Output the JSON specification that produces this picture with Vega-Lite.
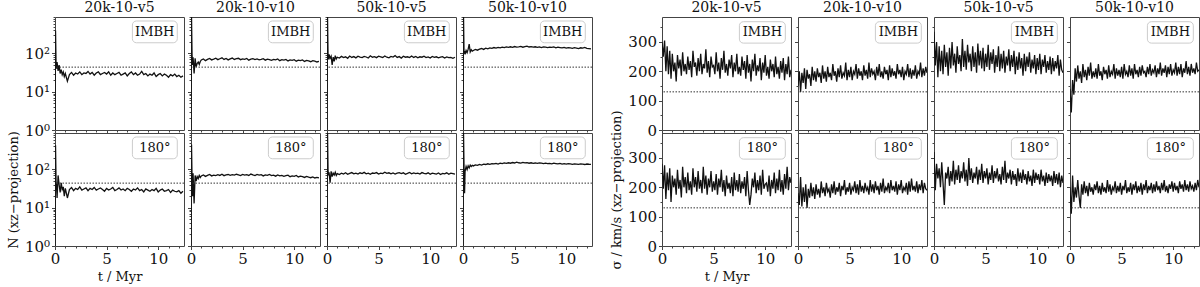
{
"$schema":"https://vega.github.io/schema/vega-lite/v6.json",
"background":"white",
"padding":{"left":6,"top":0,"right":0,"bottom":0},
"config":{
"font":"DejaVu Serif",
"view":{"stroke":"#444","strokeWidth":1},
"title":{"font":"DejaVu Serif","fontSize":14,"fontWeight":"normal","color":"#111","offset":2},
"axis":{"grid":false,"domain":false,"tickColor":"#444","labelFont":"DejaVu Serif","labelFontSize":15,"labelColor":"#111","titleFont":"DejaVu Serif","titleFontSize":13,"titleFontWeight":"normal","titleColor":"#111","labelPadding":2,"labelFlush":false,"labelOverlap":false},
"line":{"color":"#111","strokeWidth":1.3},
"rule":{"color":"#333","strokeDash":[1.5,1.5],"strokeWidth":1},
"rect":{"fill":"white","fillOpacity":0.85,"stroke":"#ccc","strokeWidth":1,"cornerRadius":4},
"text":{"font":"DejaVu Serif","fontSize":13,"color":"#111","baseline":"middle","align":"center"}
},
"datasets":{
"N":[
{"m":"20k-10-v5","r":"IMBH","t":[0,0.05,0.1,0.15,0.2,0.3,0.4,0.5,0.6,0.7,0.8,0.9,1,1.2,1.4,1.6,1.8,2,2.2,2.4,2.6,2.8,3,3.2,3.4,3.6,3.8,4,4.2,4.4,4.6,4.8,5,5.2,5.4,5.6,5.8,6,6.2,6.4,6.6,6.8,7,7.2,7.4,7.6,7.8,8,8.2,8.4,8.6,8.8,9,9.2,9.4,9.6,9.8,10,10.2,10.4,10.6,10.8,11,11.2,11.4,11.6,11.8,12,12.2,12.4],"v":[1,400,55,40,60,35,50,30,38,28,33,25,30,19,28,32,27,31,29,33,28,31,30,34,29,32,27,31,33,28,30,32,29,33,27,31,28,30,32,27,29,31,26,30,33,28,31,27,29,34,28,30,26,29,27,31,25,28,30,26,29,27,24,28,26,29,25,27,24,26]},
{"m":"20k-10-v10","r":"IMBH","t":[0,0.05,0.1,0.15,0.2,0.3,0.4,0.5,0.6,0.7,0.8,0.9,1,1.2,1.4,1.6,1.8,2,2.2,2.4,2.6,2.8,3,3.2,3.4,3.6,3.8,4,4.2,4.4,4.6,4.8,5,5.2,5.4,5.6,5.8,6,6.2,6.4,6.6,6.8,7,7.2,7.4,7.6,7.8,8,8.2,8.4,8.6,8.8,9,9.2,9.4,9.6,9.8,10,10.2,10.4,10.6,10.8,11,11.2,11.4,11.6,11.8,12,12.2,12.4],"v":[1,900,95,50,80,30,75,45,55,60,52,62,68,72,65,70,74,68,71,75,69,73,77,70,74,68,72,76,70,73,75,69,72,70,74,67,71,73,69,72,68,70,73,67,71,69,66,70,68,72,65,69,67,70,64,68,66,69,63,67,65,68,62,66,64,61,65,63,60,62]},
{"m":"50k-10-v5","r":"IMBH","t":[0,0.05,0.1,0.15,0.2,0.3,0.4,0.5,0.6,0.7,0.8,0.9,1,1.2,1.4,1.6,1.8,2,2.2,2.4,2.6,2.8,3,3.2,3.4,3.6,3.8,4,4.2,4.4,4.6,4.8,5,5.2,5.4,5.6,5.8,6,6.2,6.4,6.6,6.8,7,7.2,7.4,7.6,7.8,8,8.2,8.4,8.6,8.8,9,9.2,9.4,9.6,9.8,10,10.2,10.4,10.6,10.8,11,11.2,11.4,11.6,11.8,12,12.2,12.4],"v":[1,900,90,70,95,75,85,50,80,62,88,72,80,76,84,78,82,75,86,79,83,77,85,80,78,84,81,76,87,80,83,78,85,82,79,86,80,77,84,81,88,79,83,76,85,80,82,78,86,79,84,77,82,80,85,78,81,76,84,79,82,77,80,83,76,81,78,79,75,80]},
{"m":"50k-10-v10","r":"IMBH","t":[0,0.05,0.1,0.15,0.2,0.3,0.4,0.5,0.6,0.7,0.8,0.9,1,1.2,1.4,1.6,1.8,2,2.2,2.4,2.6,2.8,3,3.2,3.4,3.6,3.8,4,4.2,4.4,4.6,4.8,5,5.2,5.4,5.6,5.8,6,6.2,6.4,6.6,6.8,7,7.2,7.4,7.6,7.8,8,8.2,8.4,8.6,8.8,9,9.2,9.4,9.6,9.8,10,10.2,10.4,10.6,10.8,11,11.2,11.4,11.6,11.8,12,12.2,12.4],"v":[1,900,100,115,95,120,105,130,175,110,125,115,120,128,122,130,135,128,138,132,140,136,143,138,145,140,147,142,148,144,150,145,152,147,149,153,146,151,155,148,152,147,150,145,149,143,148,146,142,147,144,149,141,146,143,140,145,138,143,140,137,142,139,135,141,138,144,136,134,132]},
{"m":"20k-10-v5","r":"180°","t":[0,0.05,0.1,0.15,0.2,0.3,0.4,0.5,0.6,0.7,0.8,0.9,1,1.2,1.4,1.6,1.8,2,2.2,2.4,2.6,2.8,3,3.2,3.4,3.6,3.8,4,4.2,4.4,4.6,4.8,5,5.2,5.4,5.6,5.8,6,6.2,6.4,6.6,6.8,7,7.2,7.4,7.6,7.8,8,8.2,8.4,8.6,8.8,9,9.2,9.4,9.6,9.8,10,10.2,10.4,10.6,10.8,11,11.2,11.4,11.6,11.8,12,12.2,12.4],"v":[1,430,50,35,18,70,40,25,45,30,35,20,32,18,30,34,28,32,30,35,29,31,33,28,32,30,34,29,31,33,30,27,32,29,31,34,28,30,33,29,31,28,32,30,27,31,29,33,28,30,26,31,29,27,30,28,32,26,29,31,27,28,30,25,29,27,26,28,24,27]},
{"m":"20k-10-v10","r":"180°","t":[0,0.05,0.1,0.15,0.2,0.3,0.4,0.5,0.6,0.7,0.8,0.9,1,1.2,1.4,1.6,1.8,2,2.2,2.4,2.6,2.8,3,3.2,3.4,3.6,3.8,4,4.2,4.4,4.6,4.8,5,5.2,5.4,5.6,5.8,6,6.2,6.4,6.6,6.8,7,7.2,7.4,7.6,7.8,8,8.2,8.4,8.6,8.8,9,9.2,9.4,9.6,9.8,10,10.2,10.4,10.6,10.8,11,11.2,11.4,11.6,11.8,12,12.2,12.4],"v":[1,450,60,20,80,13,70,50,65,58,70,62,68,72,66,70,74,68,71,69,73,70,75,69,72,74,70,73,71,75,72,69,74,71,73,70,76,72,69,74,71,73,68,72,70,74,69,71,67,72,68,70,66,69,71,65,68,66,70,64,67,65,62,66,63,61,64,60,62,60]},
{"m":"50k-10-v5","r":"180°","t":[0,0.05,0.1,0.15,0.2,0.3,0.4,0.5,0.6,0.7,0.8,0.9,1,1.2,1.4,1.6,1.8,2,2.2,2.4,2.6,2.8,3,3.2,3.4,3.6,3.8,4,4.2,4.4,4.6,4.8,5,5.2,5.4,5.6,5.8,6,6.2,6.4,6.6,6.8,7,7.2,7.4,7.6,7.8,8,8.2,8.4,8.6,8.8,9,9.2,9.4,9.6,9.8,10,10.2,10.4,10.6,10.8,11,11.2,11.4,11.6,11.8,12,12.2,12.4],"v":[1,900,95,70,85,45,90,65,80,72,85,70,78,74,80,76,82,75,79,83,77,80,76,82,78,84,77,80,75,81,79,83,76,80,78,85,79,82,77,81,76,80,83,78,82,75,79,84,77,81,78,80,76,83,79,77,82,75,80,78,76,81,74,79,77,82,75,80,78,76]},
{"m":"50k-10-v10","r":"180°","t":[0,0.05,0.1,0.15,0.2,0.3,0.4,0.5,0.6,0.7,0.8,0.9,1,1.2,1.4,1.6,1.8,2,2.2,2.4,2.6,2.8,3,3.2,3.4,3.6,3.8,4,4.2,4.4,4.6,4.8,5,5.2,5.4,5.6,5.8,6,6.2,6.4,6.6,6.8,7,7.2,7.4,7.6,7.8,8,8.2,8.4,8.6,8.8,9,9.2,9.4,9.6,9.8,10,10.2,10.4,10.6,10.8,11,11.2,11.4,11.6,11.8,12,12.2,12.4],"v":[1,900,110,24,90,120,100,125,110,130,120,128,124,132,128,136,131,138,135,141,137,143,140,145,139,146,142,148,144,150,146,152,148,155,150,147,153,149,151,146,150,145,148,144,149,146,143,147,142,145,141,146,143,140,144,139,142,138,143,140,137,141,139,136,140,138,135,139,137,136]}
],
"S":[
{"m":"20k-10-v5","r":"IMBH","t":[0,0.125,0.25,0.375,0.5,0.625,0.75,0.875,1,1.125,1.25,1.375,1.5,1.625,1.75,1.875,2,2.125,2.25,2.375,2.5,2.625,2.75,2.875,3,3.125,3.25,3.375,3.5,3.625,3.75,3.875,4,4.125,4.25,4.375,4.5,4.625,4.75,4.875,5,5.125,5.25,5.375,5.5,5.625,5.75,5.875,6,6.125,6.25,6.375,6.5,6.625,6.75,6.875,7,7.125,7.25,7.375,7.5,7.625,7.75,7.875,8,8.125,8.25,8.375,8.5,8.625,8.75,8.875,9,9.125,9.25,9.375,9.5,9.625,9.75,9.875,10,10.125,10.25,10.375,10.5,10.625,10.75,10.875,11,11.125,11.25,11.375,11.5,11.625,11.75,11.875,12,12.125,12.25,12.375,12.5],"v":[300,250,305,200,285,190,270,175,260,200,230,165,255,210,240,185,265,200,225,190,250,205,235,180,270,215,230,185,245,200,260,190,225,210,275,195,235,180,250,215,220,190,265,200,230,175,245,205,270,195,225,185,240,210,255,180,230,200,260,190,215,185,250,205,235,175,255,195,225,165,240,200,260,185,220,200,245,170,230,195,255,185,215,175,240,200,225,180,250,190,215,175,235,195,245,170,225,190,250,180,205]},
{"m":"20k-10-v10","r":"IMBH","t":[0,0.125,0.25,0.375,0.5,0.625,0.75,0.875,1,1.125,1.25,1.375,1.5,1.625,1.75,1.875,2,2.125,2.25,2.375,2.5,2.625,2.75,2.875,3,3.125,3.25,3.375,3.5,3.625,3.75,3.875,4,4.125,4.25,4.375,4.5,4.625,4.75,4.875,5,5.125,5.25,5.375,5.5,5.625,5.75,5.875,6,6.125,6.25,6.375,6.5,6.625,6.75,6.875,7,7.125,7.25,7.375,7.5,7.625,7.75,7.875,8,8.125,8.25,8.375,8.5,8.625,8.75,8.875,9,9.125,9.25,9.375,9.5,9.625,9.75,9.875,10,10.125,10.25,10.375,10.5,10.625,10.75,10.875,11,11.125,11.25,11.375,11.5,11.625,11.75,11.875,12,12.125,12.25,12.375,12.5],"v":[150,200,130,195,160,210,140,205,175,190,150,215,170,200,165,210,180,195,160,220,175,200,165,215,180,195,170,225,185,200,165,210,180,220,175,195,185,230,170,205,180,215,170,200,190,225,175,210,185,200,170,220,185,205,175,230,180,210,190,200,170,215,185,225,180,200,175,215,190,205,170,220,180,210,185,200,175,225,190,205,180,215,170,200,190,225,180,210,175,205,185,220,175,200,190,230,180,210,185,215,195]},
{"m":"50k-10-v5","r":"IMBH","t":[0,0.125,0.25,0.375,0.5,0.625,0.75,0.875,1,1.125,1.25,1.375,1.5,1.625,1.75,1.875,2,2.125,2.25,2.375,2.5,2.625,2.75,2.875,3,3.125,3.25,3.375,3.5,3.625,3.75,3.875,4,4.125,4.25,4.375,4.5,4.625,4.75,4.875,5,5.125,5.25,5.375,5.5,5.625,5.75,5.875,6,6.125,6.25,6.375,6.5,6.625,6.75,6.875,7,7.125,7.25,7.375,7.5,7.625,7.75,7.875,8,8.125,8.25,8.375,8.5,8.625,8.75,8.875,9,9.125,9.25,9.375,9.5,9.625,9.75,9.875,10,10.125,10.25,10.375,10.5,10.625,10.75,10.875,11,11.125,11.25,11.375,11.5,11.625,11.75,11.875,12,12.125,12.25,12.375,12.5],"v":[335,220,300,180,285,200,270,190,290,215,265,185,280,210,300,220,260,195,285,225,255,200,310,215,270,205,290,230,260,200,285,215,265,195,295,220,270,210,280,200,260,215,290,205,265,225,275,195,255,215,285,200,260,210,270,195,250,220,275,200,255,215,270,190,250,205,265,210,245,185,260,200,250,215,265,195,240,210,255,190,245,205,260,190,240,215,255,195,235,205,250,190,245,200,235,210,255,185,240,205,195]},
{"m":"50k-10-v10","r":"IMBH","t":[0,0.125,0.25,0.375,0.5,0.625,0.75,0.875,1,1.125,1.25,1.375,1.5,1.625,1.75,1.875,2,2.125,2.25,2.375,2.5,2.625,2.75,2.875,3,3.125,3.25,3.375,3.5,3.625,3.75,3.875,4,4.125,4.25,4.375,4.5,4.625,4.75,4.875,5,5.125,5.25,5.375,5.5,5.625,5.75,5.875,6,6.125,6.25,6.375,6.5,6.625,6.75,6.875,7,7.125,7.25,7.375,7.5,7.625,7.75,7.875,8,8.125,8.25,8.375,8.5,8.625,8.75,8.875,9,9.125,9.25,9.375,9.5,9.625,9.75,9.875,10,10.125,10.25,10.375,10.5,10.625,10.75,10.875,11,11.125,11.25,11.375,11.5,11.625,11.75,11.875,12,12.125,12.25,12.375,12.5],"v":[140,60,170,120,210,165,220,175,200,160,225,180,205,170,215,185,230,175,200,180,210,175,225,185,200,170,215,190,205,175,220,180,200,190,225,175,210,185,205,180,215,175,225,190,200,180,220,185,210,175,225,190,205,180,215,185,220,195,200,180,215,190,225,185,205,195,220,180,210,190,230,185,210,195,220,180,215,190,225,185,205,195,230,185,215,190,225,180,210,195,235,190,215,185,225,195,210,190,230,200,205]},
{"m":"20k-10-v5","r":"180°","t":[0,0.125,0.25,0.375,0.5,0.625,0.75,0.875,1,1.125,1.25,1.375,1.5,1.625,1.75,1.875,2,2.125,2.25,2.375,2.5,2.625,2.75,2.875,3,3.125,3.25,3.375,3.5,3.625,3.75,3.875,4,4.125,4.25,4.375,4.5,4.625,4.75,4.875,5,5.125,5.25,5.375,5.5,5.625,5.75,5.875,6,6.125,6.25,6.375,6.5,6.625,6.75,6.875,7,7.125,7.25,7.375,7.5,7.625,7.75,7.875,8,8.125,8.25,8.375,8.5,8.625,8.75,8.875,9,9.125,9.25,9.375,9.5,9.625,9.75,9.875,10,10.125,10.25,10.375,10.5,10.625,10.75,10.875,11,11.125,11.25,11.375,11.5,11.625,11.75,11.875,12,12.125,12.25,12.375,12.5],"v":[280,195,275,160,250,190,265,150,240,200,230,175,260,195,225,165,270,200,235,180,250,190,220,175,265,200,235,185,255,195,225,180,270,195,240,175,230,200,255,185,220,190,245,175,230,200,260,185,225,170,240,195,215,180,235,170,250,190,225,185,245,180,220,195,235,170,255,190,140,175,230,200,250,180,225,190,240,175,260,195,210,215,185,240,170,225,195,250,180,230,190,260,185,225,175,245,195,270,190,235,215]},
{"m":"20k-10-v10","r":"180°","t":[0,0.125,0.25,0.375,0.5,0.625,0.75,0.875,1,1.125,1.25,1.375,1.5,1.625,1.75,1.875,2,2.125,2.25,2.375,2.5,2.625,2.75,2.875,3,3.125,3.25,3.375,3.5,3.625,3.75,3.875,4,4.125,4.25,4.375,4.5,4.625,4.75,4.875,5,5.125,5.25,5.375,5.5,5.625,5.75,5.875,6,6.125,6.25,6.375,6.5,6.625,6.75,6.875,7,7.125,7.25,7.375,7.5,7.625,7.75,7.875,8,8.125,8.25,8.375,8.5,8.625,8.75,8.875,9,9.125,9.25,9.375,9.5,9.625,9.75,9.875,10,10.125,10.25,10.375,10.5,10.625,10.75,10.875,11,11.125,11.25,11.375,11.5,11.625,11.75,11.875,12,12.125,12.25,12.375,12.5],"v":[180,140,235,135,200,150,210,130,195,165,215,170,200,160,210,175,195,165,220,180,200,170,215,185,195,165,210,180,220,175,200,185,215,170,205,190,225,175,200,185,215,175,200,190,220,180,210,175,225,185,205,180,215,190,200,175,225,185,210,180,220,190,205,175,215,185,230,180,200,190,215,180,225,190,205,185,220,175,210,190,225,180,200,190,215,175,220,185,230,190,205,185,220,180,210,190,225,180,215,195,190]},
{"m":"50k-10-v5","r":"180°","t":[0,0.125,0.25,0.375,0.5,0.625,0.75,0.875,1,1.125,1.25,1.375,1.5,1.625,1.75,1.875,2,2.125,2.25,2.375,2.5,2.625,2.75,2.875,3,3.125,3.25,3.375,3.5,3.625,3.75,3.875,4,4.125,4.25,4.375,4.5,4.625,4.75,4.875,5,5.125,5.25,5.375,5.5,5.625,5.75,5.875,6,6.125,6.25,6.375,6.5,6.625,6.75,6.875,7,7.125,7.25,7.375,7.5,7.625,7.75,7.875,8,8.125,8.25,8.375,8.5,8.625,8.75,8.875,9,9.125,9.25,9.375,9.5,9.625,9.75,9.875,10,10.125,10.25,10.375,10.5,10.625,10.75,10.875,11,11.125,11.25,11.375,11.5,11.625,11.75,11.875,12,12.125,12.25,12.375,12.5],"v":[320,190,280,230,265,200,285,215,140,250,230,270,205,255,220,290,210,260,225,275,215,255,230,285,220,260,205,300,225,265,215,250,230,270,210,260,225,280,215,255,230,265,210,250,225,275,215,255,230,265,220,245,210,270,225,290,215,250,230,260,210,255,225,245,205,265,220,250,215,260,225,245,210,255,220,240,205,260,215,250,225,245,210,260,220,240,205,250,215,245,220,240,205,255,215,245,210,250,200,240,215]},
{"m":"50k-10-v10","r":"180°","t":[0,0.125,0.25,0.375,0.5,0.625,0.75,0.875,1,1.125,1.25,1.375,1.5,1.625,1.75,1.875,2,2.125,2.25,2.375,2.5,2.625,2.75,2.875,3,3.125,3.25,3.375,3.5,3.625,3.75,3.875,4,4.125,4.25,4.375,4.5,4.625,4.75,4.875,5,5.125,5.25,5.375,5.5,5.625,5.75,5.875,6,6.125,6.25,6.375,6.5,6.625,6.75,6.875,7,7.125,7.25,7.375,7.5,7.625,7.75,7.875,8,8.125,8.25,8.375,8.5,8.625,8.75,8.875,9,9.125,9.25,9.375,9.5,9.625,9.75,9.875,10,10.125,10.25,10.375,10.5,10.625,10.75,10.875,11,11.125,11.25,11.375,11.5,11.625,11.75,11.875,12,12.125,12.25,12.375,12.5],"v":[200,110,240,150,200,165,225,170,130,210,175,220,180,205,170,215,185,200,175,210,190,220,180,205,175,215,185,200,180,225,185,210,175,200,190,220,180,205,185,215,175,205,190,225,180,200,185,215,175,210,190,220,180,205,185,215,175,210,190,225,180,205,190,215,180,210,185,220,190,205,180,215,190,225,185,205,180,210,195,220,185,215,190,205,180,220,195,210,185,225,190,210,185,220,195,205,185,215,190,225,200]}
]
},
"columns":9,
"spacing":{"row":3,"column":7},
"bounds":"flush",
"align":"each",
"concat":[
{"title":"20k-10-v5","width":129,"height":113,"data":{"name":"N"},"transform":[{"filter":"datum.m==='20k-10-v5' && datum.r==='IMBH'"}],"layer":[
{"transform":[{"flatten":["t","v"]}],"mark":{"type":"line","clip":true},"encoding":{"x":{"field":"t","type":"quantitative","scale":{"domain":[0,12.5],"nice":false,"zero":false},"axis":{"values":[0,1,2,3,4,5,6,7,8,9,10,11,12],"tickCount":100,"labels":false,"title":null,"tickSize":{"condition":{"test":"datum.value === 0 || datum.value === 5 || datum.value === 10","value":3.5},"value":2}}},"y":{"field":"v","type":"quantitative","scale":{"type":"log","domain":[1,900],"nice":false},"axis":{"values":[1,2,3,4,5,6,7,8,9,10,20,30,40,50,60,70,80,90,100,200,300,400,500,600,700,800,900],"tickCount":100,"labelExpr":"datum.value === 1 ? '10⁰' : datum.value === 10 ? '10¹' : datum.value === 100 ? '10²' : ''","labelFontSize":{"condition":{"test":"datum.value === 1 || datum.value === 10 || datum.value === 100","value":15},"value":0},"title":null,"tickSize":{"condition":{"test":"datum.value === 1 || datum.value === 10 || datum.value === 100","value":3.5},"value":2}}}}},
{"mark":"rule","encoding":{"y":{"datum":44}}},
{"mark":"rect","encoding":{"x":{"datum":7.5},"x2":{"datum":11.85},"y":{"datum":191},"y2":{"datum":708}}},
{"mark":"text","encoding":{"x":{"datum":9.67},"y":{"datum":368},"text":{"field":"r"}}}]},
{"title":"20k-10-v10","width":129,"height":113,"data":{"name":"N"},"transform":[{"filter":"datum.m==='20k-10-v10' && datum.r==='IMBH'"}],"layer":[
{"transform":[{"flatten":["t","v"]}],"mark":{"type":"line","clip":true},"encoding":{"x":{"field":"t","type":"quantitative","scale":{"domain":[0,12.5],"nice":false,"zero":false},"axis":{"values":[0,1,2,3,4,5,6,7,8,9,10,11,12],"tickCount":100,"labels":false,"title":null,"tickSize":{"condition":{"test":"datum.value === 0 || datum.value === 5 || datum.value === 10","value":3.5},"value":2}}},"y":{"field":"v","type":"quantitative","scale":{"type":"log","domain":[1,900],"nice":false},"axis":{"values":[1,2,3,4,5,6,7,8,9,10,20,30,40,50,60,70,80,90,100,200,300,400,500,600,700,800,900],"tickCount":100,"labels":false,"title":null,"tickSize":{"condition":{"test":"datum.value === 1 || datum.value === 10 || datum.value === 100","value":3.5},"value":2}}}}},
{"mark":"rule","encoding":{"y":{"datum":44}}},
{"mark":"rect","encoding":{"x":{"datum":7.5},"x2":{"datum":11.85},"y":{"datum":191},"y2":{"datum":708}}},
{"mark":"text","encoding":{"x":{"datum":9.67},"y":{"datum":368},"text":{"field":"r"}}}]},
{"title":"50k-10-v5","width":129,"height":113,"data":{"name":"N"},"transform":[{"filter":"datum.m==='50k-10-v5' && datum.r==='IMBH'"}],"layer":[
{"transform":[{"flatten":["t","v"]}],"mark":{"type":"line","clip":true},"encoding":{"x":{"field":"t","type":"quantitative","scale":{"domain":[0,12.5],"nice":false,"zero":false},"axis":{"values":[0,1,2,3,4,5,6,7,8,9,10,11,12],"tickCount":100,"labels":false,"title":null,"tickSize":{"condition":{"test":"datum.value === 0 || datum.value === 5 || datum.value === 10","value":3.5},"value":2}}},"y":{"field":"v","type":"quantitative","scale":{"type":"log","domain":[1,900],"nice":false},"axis":{"values":[1,2,3,4,5,6,7,8,9,10,20,30,40,50,60,70,80,90,100,200,300,400,500,600,700,800,900],"tickCount":100,"labels":false,"title":null,"tickSize":{"condition":{"test":"datum.value === 1 || datum.value === 10 || datum.value === 100","value":3.5},"value":2}}}}},
{"mark":"rule","encoding":{"y":{"datum":44}}},
{"mark":"rect","encoding":{"x":{"datum":7.5},"x2":{"datum":11.85},"y":{"datum":191},"y2":{"datum":708}}},
{"mark":"text","encoding":{"x":{"datum":9.67},"y":{"datum":368},"text":{"field":"r"}}}]},
{"title":"50k-10-v10","width":129,"height":113,"data":{"name":"N"},"transform":[{"filter":"datum.m==='50k-10-v10' && datum.r==='IMBH'"}],"layer":[
{"transform":[{"flatten":["t","v"]}],"mark":{"type":"line","clip":true},"encoding":{"x":{"field":"t","type":"quantitative","scale":{"domain":[0,12.5],"nice":false,"zero":false},"axis":{"values":[0,1,2,3,4,5,6,7,8,9,10,11,12],"tickCount":100,"labels":false,"title":null,"tickSize":{"condition":{"test":"datum.value === 0 || datum.value === 5 || datum.value === 10","value":3.5},"value":2}}},"y":{"field":"v","type":"quantitative","scale":{"type":"log","domain":[1,900],"nice":false},"axis":{"values":[1,2,3,4,5,6,7,8,9,10,20,30,40,50,60,70,80,90,100,200,300,400,500,600,700,800,900],"tickCount":100,"labels":false,"title":null,"tickSize":{"condition":{"test":"datum.value === 1 || datum.value === 10 || datum.value === 100","value":3.5},"value":2}}}}},
{"mark":"rule","encoding":{"y":{"datum":44}}},
{"mark":"rect","encoding":{"x":{"datum":7.5},"x2":{"datum":11.85},"y":{"datum":191},"y2":{"datum":708}}},
{"mark":"text","encoding":{"x":{"datum":9.67},"y":{"datum":368},"text":{"field":"r"}}}]},
{"width":56,"height":113,"data":{"values":[{}]},"mark":{"type":"point","opacity":0},"encoding":{},"view":{"stroke":null}},
{"title":"20k-10-v5","width":129,"height":113,"data":{"name":"S"},"transform":[{"filter":"datum.m==='20k-10-v5' && datum.r==='IMBH'"}],"layer":[
{"transform":[{"flatten":["t","v"]}],"mark":{"type":"line","clip":true},"encoding":{"x":{"field":"t","type":"quantitative","scale":{"domain":[0,12.5],"nice":false,"zero":false},"axis":{"values":[0,1,2,3,4,5,6,7,8,9,10,11,12],"tickCount":100,"labels":false,"title":null,"tickSize":{"condition":{"test":"datum.value === 0 || datum.value === 5 || datum.value === 10","value":3.5},"value":2}}},"y":{"field":"v","type":"quantitative","scale":{"domain":[0,385],"nice":false,"zero":false},"axis":{"values":[0,50,100,150,200,250,300,350],"tickCount":100,"labelExpr":"datum.value === 0 ? '0' : datum.value === 100 ? '100' : datum.value === 200 ? '200' : datum.value === 300 ? '300' : ''","labelFontSize":{"condition":{"test":"datum.value === 0 || datum.value === 100 || datum.value === 200 || datum.value === 300","value":15},"value":0},"title":null,"tickSize":{"condition":{"test":"datum.value === 0 || datum.value === 100 || datum.value === 200 || datum.value === 300","value":3.5},"value":2}}}}},
{"mark":"rule","encoding":{"y":{"datum":130}}},
{"mark":"rect","encoding":{"x":{"datum":7.5},"x2":{"datum":11.95},"y":{"datum":296},"y2":{"datum":369}}},
{"mark":"text","encoding":{"x":{"datum":9.72},"y":{"datum":333},"text":{"field":"r"}}}]},
{"title":"20k-10-v10","width":129,"height":113,"data":{"name":"S"},"transform":[{"filter":"datum.m==='20k-10-v10' && datum.r==='IMBH'"}],"layer":[
{"transform":[{"flatten":["t","v"]}],"mark":{"type":"line","clip":true},"encoding":{"x":{"field":"t","type":"quantitative","scale":{"domain":[0,12.5],"nice":false,"zero":false},"axis":{"values":[0,1,2,3,4,5,6,7,8,9,10,11,12],"tickCount":100,"labels":false,"title":null,"tickSize":{"condition":{"test":"datum.value === 0 || datum.value === 5 || datum.value === 10","value":3.5},"value":2}}},"y":{"field":"v","type":"quantitative","scale":{"domain":[0,385],"nice":false,"zero":false},"axis":{"values":[0,50,100,150,200,250,300,350],"tickCount":100,"labels":false,"title":null,"tickSize":{"condition":{"test":"datum.value === 0 || datum.value === 100 || datum.value === 200 || datum.value === 300","value":3.5},"value":2}}}}},
{"mark":"rule","encoding":{"y":{"datum":130}}},
{"mark":"rect","encoding":{"x":{"datum":7.5},"x2":{"datum":11.95},"y":{"datum":296},"y2":{"datum":369}}},
{"mark":"text","encoding":{"x":{"datum":9.72},"y":{"datum":333},"text":{"field":"r"}}}]},
{"title":"50k-10-v5","width":129,"height":113,"data":{"name":"S"},"transform":[{"filter":"datum.m==='50k-10-v5' && datum.r==='IMBH'"}],"layer":[
{"transform":[{"flatten":["t","v"]}],"mark":{"type":"line","clip":true},"encoding":{"x":{"field":"t","type":"quantitative","scale":{"domain":[0,12.5],"nice":false,"zero":false},"axis":{"values":[0,1,2,3,4,5,6,7,8,9,10,11,12],"tickCount":100,"labels":false,"title":null,"tickSize":{"condition":{"test":"datum.value === 0 || datum.value === 5 || datum.value === 10","value":3.5},"value":2}}},"y":{"field":"v","type":"quantitative","scale":{"domain":[0,385],"nice":false,"zero":false},"axis":{"values":[0,50,100,150,200,250,300,350],"tickCount":100,"labels":false,"title":null,"tickSize":{"condition":{"test":"datum.value === 0 || datum.value === 100 || datum.value === 200 || datum.value === 300","value":3.5},"value":2}}}}},
{"mark":"rule","encoding":{"y":{"datum":130}}},
{"mark":"rect","encoding":{"x":{"datum":7.5},"x2":{"datum":11.95},"y":{"datum":296},"y2":{"datum":369}}},
{"mark":"text","encoding":{"x":{"datum":9.72},"y":{"datum":333},"text":{"field":"r"}}}]},
{"title":"50k-10-v10","width":129,"height":113,"data":{"name":"S"},"transform":[{"filter":"datum.m==='50k-10-v10' && datum.r==='IMBH'"}],"layer":[
{"transform":[{"flatten":["t","v"]}],"mark":{"type":"line","clip":true},"encoding":{"x":{"field":"t","type":"quantitative","scale":{"domain":[0,12.5],"nice":false,"zero":false},"axis":{"values":[0,1,2,3,4,5,6,7,8,9,10,11,12],"tickCount":100,"labels":false,"title":null,"tickSize":{"condition":{"test":"datum.value === 0 || datum.value === 5 || datum.value === 10","value":3.5},"value":2}}},"y":{"field":"v","type":"quantitative","scale":{"domain":[0,385],"nice":false,"zero":false},"axis":{"values":[0,50,100,150,200,250,300,350],"tickCount":100,"labels":false,"title":null,"tickSize":{"condition":{"test":"datum.value === 0 || datum.value === 100 || datum.value === 200 || datum.value === 300","value":3.5},"value":2}}}}},
{"mark":"rule","encoding":{"y":{"datum":130}}},
{"mark":"rect","encoding":{"x":{"datum":7.5},"x2":{"datum":11.95},"y":{"datum":296},"y2":{"datum":369}}},
{"mark":"text","encoding":{"x":{"datum":9.72},"y":{"datum":333},"text":{"field":"r"}}}]},
{"width":129,"height":113,"data":{"name":"N"},"transform":[{"filter":"datum.m==='20k-10-v5' && datum.r==='180°'"}],"layer":[
{"transform":[{"flatten":["t","v"]}],"mark":{"type":"line","clip":true},"encoding":{"x":{"field":"t","type":"quantitative","scale":{"domain":[0,12.5],"nice":false,"zero":false},"axis":{"values":[0,1,2,3,4,5,6,7,8,9,10,11,12],"tickCount":100,"labelExpr":"datum.value === 0 ? '0' : datum.value === 5 ? '5' : datum.value === 10 ? '10' : ''","labelFontSize":{"condition":{"test":"datum.value === 0 || datum.value === 5 || datum.value === 10","value":15},"value":0},"title":"t / Myr","tickSize":{"condition":{"test":"datum.value === 0 || datum.value === 5 || datum.value === 10","value":3.5},"value":2}}},"y":{"field":"v","type":"quantitative","scale":{"type":"log","domain":[1,900],"nice":false},"axis":{"values":[1,2,3,4,5,6,7,8,9,10,20,30,40,50,60,70,80,90,100,200,300,400,500,600,700,800,900],"tickCount":100,"labelExpr":"datum.value === 1 ? '10⁰' : datum.value === 10 ? '10¹' : datum.value === 100 ? '10²' : ''","labelFontSize":{"condition":{"test":"datum.value === 1 || datum.value === 10 || datum.value === 100","value":15},"value":0},"title":"N (xz−projection)","tickSize":{"condition":{"test":"datum.value === 1 || datum.value === 10 || datum.value === 100","value":3.5},"value":2}}}}},
{"mark":"rule","encoding":{"y":{"datum":44}}},
{"mark":"rect","encoding":{"x":{"datum":7.5},"x2":{"datum":11.85},"y":{"datum":191},"y2":{"datum":708}}},
{"mark":"text","encoding":{"x":{"datum":9.67},"y":{"datum":368},"text":{"field":"r"}}}]},
{"width":129,"height":113,"data":{"name":"N"},"transform":[{"filter":"datum.m==='20k-10-v10' && datum.r==='180°'"}],"layer":[
{"transform":[{"flatten":["t","v"]}],"mark":{"type":"line","clip":true},"encoding":{"x":{"field":"t","type":"quantitative","scale":{"domain":[0,12.5],"nice":false,"zero":false},"axis":{"values":[0,1,2,3,4,5,6,7,8,9,10,11,12],"tickCount":100,"labelExpr":"datum.value === 0 ? '0' : datum.value === 5 ? '5' : datum.value === 10 ? '10' : ''","labelFontSize":{"condition":{"test":"datum.value === 0 || datum.value === 5 || datum.value === 10","value":15},"value":0},"title":null,"tickSize":{"condition":{"test":"datum.value === 0 || datum.value === 5 || datum.value === 10","value":3.5},"value":2}}},"y":{"field":"v","type":"quantitative","scale":{"type":"log","domain":[1,900],"nice":false},"axis":{"values":[1,2,3,4,5,6,7,8,9,10,20,30,40,50,60,70,80,90,100,200,300,400,500,600,700,800,900],"tickCount":100,"labels":false,"title":null,"tickSize":{"condition":{"test":"datum.value === 1 || datum.value === 10 || datum.value === 100","value":3.5},"value":2}}}}},
{"mark":"rule","encoding":{"y":{"datum":44}}},
{"mark":"rect","encoding":{"x":{"datum":7.5},"x2":{"datum":11.85},"y":{"datum":191},"y2":{"datum":708}}},
{"mark":"text","encoding":{"x":{"datum":9.67},"y":{"datum":368},"text":{"field":"r"}}}]},
{"width":129,"height":113,"data":{"name":"N"},"transform":[{"filter":"datum.m==='50k-10-v5' && datum.r==='180°'"}],"layer":[
{"transform":[{"flatten":["t","v"]}],"mark":{"type":"line","clip":true},"encoding":{"x":{"field":"t","type":"quantitative","scale":{"domain":[0,12.5],"nice":false,"zero":false},"axis":{"values":[0,1,2,3,4,5,6,7,8,9,10,11,12],"tickCount":100,"labelExpr":"datum.value === 0 ? '0' : datum.value === 5 ? '5' : datum.value === 10 ? '10' : ''","labelFontSize":{"condition":{"test":"datum.value === 0 || datum.value === 5 || datum.value === 10","value":15},"value":0},"title":null,"tickSize":{"condition":{"test":"datum.value === 0 || datum.value === 5 || datum.value === 10","value":3.5},"value":2}}},"y":{"field":"v","type":"quantitative","scale":{"type":"log","domain":[1,900],"nice":false},"axis":{"values":[1,2,3,4,5,6,7,8,9,10,20,30,40,50,60,70,80,90,100,200,300,400,500,600,700,800,900],"tickCount":100,"labels":false,"title":null,"tickSize":{"condition":{"test":"datum.value === 1 || datum.value === 10 || datum.value === 100","value":3.5},"value":2}}}}},
{"mark":"rule","encoding":{"y":{"datum":44}}},
{"mark":"rect","encoding":{"x":{"datum":7.5},"x2":{"datum":11.85},"y":{"datum":191},"y2":{"datum":708}}},
{"mark":"text","encoding":{"x":{"datum":9.67},"y":{"datum":368},"text":{"field":"r"}}}]},
{"width":129,"height":113,"data":{"name":"N"},"transform":[{"filter":"datum.m==='50k-10-v10' && datum.r==='180°'"}],"layer":[
{"transform":[{"flatten":["t","v"]}],"mark":{"type":"line","clip":true},"encoding":{"x":{"field":"t","type":"quantitative","scale":{"domain":[0,12.5],"nice":false,"zero":false},"axis":{"values":[0,1,2,3,4,5,6,7,8,9,10,11,12],"tickCount":100,"labelExpr":"datum.value === 0 ? '0' : datum.value === 5 ? '5' : datum.value === 10 ? '10' : ''","labelFontSize":{"condition":{"test":"datum.value === 0 || datum.value === 5 || datum.value === 10","value":15},"value":0},"title":null,"tickSize":{"condition":{"test":"datum.value === 0 || datum.value === 5 || datum.value === 10","value":3.5},"value":2}}},"y":{"field":"v","type":"quantitative","scale":{"type":"log","domain":[1,900],"nice":false},"axis":{"values":[1,2,3,4,5,6,7,8,9,10,20,30,40,50,60,70,80,90,100,200,300,400,500,600,700,800,900],"tickCount":100,"labels":false,"title":null,"tickSize":{"condition":{"test":"datum.value === 1 || datum.value === 10 || datum.value === 100","value":3.5},"value":2}}}}},
{"mark":"rule","encoding":{"y":{"datum":44}}},
{"mark":"rect","encoding":{"x":{"datum":7.5},"x2":{"datum":11.85},"y":{"datum":191},"y2":{"datum":708}}},
{"mark":"text","encoding":{"x":{"datum":9.67},"y":{"datum":368},"text":{"field":"r"}}}]},
{"width":56,"height":113,"data":{"values":[{}]},"mark":{"type":"point","opacity":0},"encoding":{},"view":{"stroke":null}},
{"width":129,"height":113,"data":{"name":"S"},"transform":[{"filter":"datum.m==='20k-10-v5' && datum.r==='180°'"}],"layer":[
{"transform":[{"flatten":["t","v"]}],"mark":{"type":"line","clip":true},"encoding":{"x":{"field":"t","type":"quantitative","scale":{"domain":[0,12.5],"nice":false,"zero":false},"axis":{"values":[0,1,2,3,4,5,6,7,8,9,10,11,12],"tickCount":100,"labelExpr":"datum.value === 0 ? '0' : datum.value === 5 ? '5' : datum.value === 10 ? '10' : ''","labelFontSize":{"condition":{"test":"datum.value === 0 || datum.value === 5 || datum.value === 10","value":15},"value":0},"title":"t / Myr","tickSize":{"condition":{"test":"datum.value === 0 || datum.value === 5 || datum.value === 10","value":3.5},"value":2}}},"y":{"field":"v","type":"quantitative","scale":{"domain":[0,385],"nice":false,"zero":false},"axis":{"values":[0,50,100,150,200,250,300,350],"tickCount":100,"labelExpr":"datum.value === 0 ? '0' : datum.value === 100 ? '100' : datum.value === 200 ? '200' : datum.value === 300 ? '300' : ''","labelFontSize":{"condition":{"test":"datum.value === 0 || datum.value === 100 || datum.value === 200 || datum.value === 300","value":15},"value":0},"title":"σ / km/s (xz−projection)","tickSize":{"condition":{"test":"datum.value === 0 || datum.value === 100 || datum.value === 200 || datum.value === 300","value":3.5},"value":2}}}}},
{"mark":"rule","encoding":{"y":{"datum":130}}},
{"mark":"rect","encoding":{"x":{"datum":7.5},"x2":{"datum":11.95},"y":{"datum":296},"y2":{"datum":369}}},
{"mark":"text","encoding":{"x":{"datum":9.72},"y":{"datum":333},"text":{"field":"r"}}}]},
{"width":129,"height":113,"data":{"name":"S"},"transform":[{"filter":"datum.m==='20k-10-v10' && datum.r==='180°'"}],"layer":[
{"transform":[{"flatten":["t","v"]}],"mark":{"type":"line","clip":true},"encoding":{"x":{"field":"t","type":"quantitative","scale":{"domain":[0,12.5],"nice":false,"zero":false},"axis":{"values":[0,1,2,3,4,5,6,7,8,9,10,11,12],"tickCount":100,"labelExpr":"datum.value === 0 ? '0' : datum.value === 5 ? '5' : datum.value === 10 ? '10' : ''","labelFontSize":{"condition":{"test":"datum.value === 0 || datum.value === 5 || datum.value === 10","value":15},"value":0},"title":null,"tickSize":{"condition":{"test":"datum.value === 0 || datum.value === 5 || datum.value === 10","value":3.5},"value":2}}},"y":{"field":"v","type":"quantitative","scale":{"domain":[0,385],"nice":false,"zero":false},"axis":{"values":[0,50,100,150,200,250,300,350],"tickCount":100,"labels":false,"title":null,"tickSize":{"condition":{"test":"datum.value === 0 || datum.value === 100 || datum.value === 200 || datum.value === 300","value":3.5},"value":2}}}}},
{"mark":"rule","encoding":{"y":{"datum":130}}},
{"mark":"rect","encoding":{"x":{"datum":7.5},"x2":{"datum":11.95},"y":{"datum":296},"y2":{"datum":369}}},
{"mark":"text","encoding":{"x":{"datum":9.72},"y":{"datum":333},"text":{"field":"r"}}}]},
{"width":129,"height":113,"data":{"name":"S"},"transform":[{"filter":"datum.m==='50k-10-v5' && datum.r==='180°'"}],"layer":[
{"transform":[{"flatten":["t","v"]}],"mark":{"type":"line","clip":true},"encoding":{"x":{"field":"t","type":"quantitative","scale":{"domain":[0,12.5],"nice":false,"zero":false},"axis":{"values":[0,1,2,3,4,5,6,7,8,9,10,11,12],"tickCount":100,"labelExpr":"datum.value === 0 ? '0' : datum.value === 5 ? '5' : datum.value === 10 ? '10' : ''","labelFontSize":{"condition":{"test":"datum.value === 0 || datum.value === 5 || datum.value === 10","value":15},"value":0},"title":null,"tickSize":{"condition":{"test":"datum.value === 0 || datum.value === 5 || datum.value === 10","value":3.5},"value":2}}},"y":{"field":"v","type":"quantitative","scale":{"domain":[0,385],"nice":false,"zero":false},"axis":{"values":[0,50,100,150,200,250,300,350],"tickCount":100,"labels":false,"title":null,"tickSize":{"condition":{"test":"datum.value === 0 || datum.value === 100 || datum.value === 200 || datum.value === 300","value":3.5},"value":2}}}}},
{"mark":"rule","encoding":{"y":{"datum":130}}},
{"mark":"rect","encoding":{"x":{"datum":7.5},"x2":{"datum":11.95},"y":{"datum":296},"y2":{"datum":369}}},
{"mark":"text","encoding":{"x":{"datum":9.72},"y":{"datum":333},"text":{"field":"r"}}}]},
{"width":129,"height":113,"data":{"name":"S"},"transform":[{"filter":"datum.m==='50k-10-v10' && datum.r==='180°'"}],"layer":[
{"transform":[{"flatten":["t","v"]}],"mark":{"type":"line","clip":true},"encoding":{"x":{"field":"t","type":"quantitative","scale":{"domain":[0,12.5],"nice":false,"zero":false},"axis":{"values":[0,1,2,3,4,5,6,7,8,9,10,11,12],"tickCount":100,"labelExpr":"datum.value === 0 ? '0' : datum.value === 5 ? '5' : datum.value === 10 ? '10' : ''","labelFontSize":{"condition":{"test":"datum.value === 0 || datum.value === 5 || datum.value === 10","value":15},"value":0},"title":null,"tickSize":{"condition":{"test":"datum.value === 0 || datum.value === 5 || datum.value === 10","value":3.5},"value":2}}},"y":{"field":"v","type":"quantitative","scale":{"domain":[0,385],"nice":false,"zero":false},"axis":{"values":[0,50,100,150,200,250,300,350],"tickCount":100,"labels":false,"title":null,"tickSize":{"condition":{"test":"datum.value === 0 || datum.value === 100 || datum.value === 200 || datum.value === 300","value":3.5},"value":2}}}}},
{"mark":"rule","encoding":{"y":{"datum":130}}},
{"mark":"rect","encoding":{"x":{"datum":7.5},"x2":{"datum":11.95},"y":{"datum":296},"y2":{"datum":369}}},
{"mark":"text","encoding":{"x":{"datum":9.72},"y":{"datum":333},"text":{"field":"r"}}}]}
]
}
